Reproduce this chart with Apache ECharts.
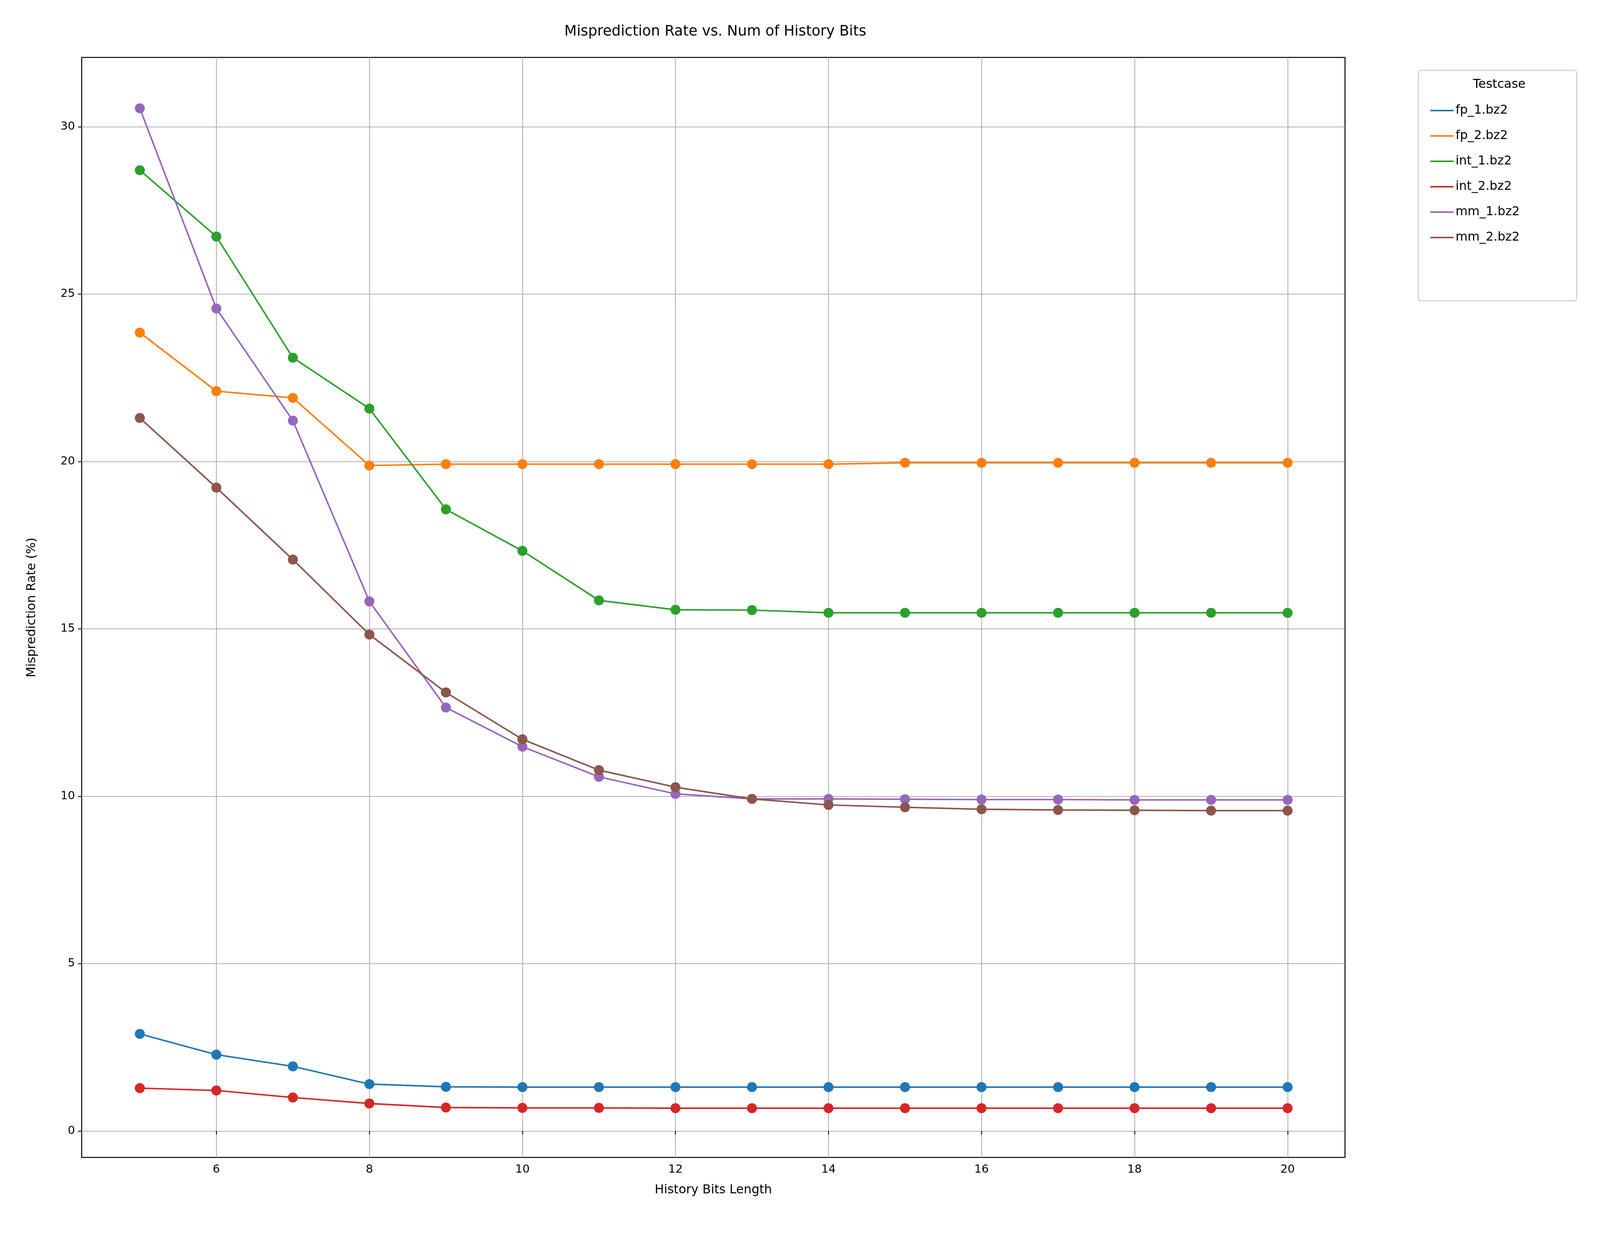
<!DOCTYPE html>
<html><head><meta charset="utf-8">
<script src="https://cdn.jsdelivr.net/npm/echarts@6/dist/echarts.min.js"></script>
<style>html,body{margin:0;background:#fff;overflow:hidden}#c{width:100vw;height:100vh}</style>
</head><body><div id="c"></div>
<script>
var bits = [5,6,7,8,9,10,11,12,13,14,15,16,17,18,19,20];
var names = ['fp_1.bz2','fp_2.bz2','int_1.bz2','int_2.bz2','mm_1.bz2','mm_2.bz2'];
var colors = ['#1f77b4','#ff7f0e','#2ca02c','#d62728','#9467bd','#8c564b'];
var fp1 = [2.9,2.28,1.93,1.4,1.32,1.31,1.31,1.31,1.31,1.31,1.31,1.31,1.31,1.31,1.31,1.31];
var fp2 = [23.85,22.1,21.9,19.88,19.92,19.92,19.92,19.92,19.92,19.92,19.96,19.96,19.96,19.96,19.96,19.96];
var int1 = [28.7,26.72,23.1,21.58,18.57,17.33,15.85,15.57,15.56,15.48,15.48,15.48,15.48,15.48,15.48,15.48];
var int2 = [1.28,1.21,1.0,0.82,0.7,0.69,0.69,0.68,0.68,0.68,0.68,0.68,0.68,0.68,0.68,0.68];
var mm1 = [30.55,24.57,21.22,15.82,12.65,11.48,10.58,10.07,9.92,9.92,9.91,9.9,9.9,9.89,9.89,9.89];
var mm2 = [21.3,19.22,17.07,14.83,13.1,11.7,10.78,10.27,9.92,9.74,9.67,9.61,9.59,9.58,9.57,9.57];
var xTicks = [6,8,10,12,14,16,18,20];
var yTicks = [0,5,10,15,20,25,30];
var all = [fp1,fp2,int1,int2,mm1,mm2];

var el = document.getElementById('c');
var W = el.clientWidth, H = el.clientHeight;
var kx = W/4800, ky = H/3200, k = Math.min(kx, ky);
var chart = echarts.init(el);
var font = 'DejaVu Sans';
chart.setOption({
  animation:false,
  textStyle:{fontFamily:font},
  title:[
    {text:'Misprediction Rate vs. Num of History Bits',left:2140*kx,top:58*ky,textAlign:'center',
     textStyle:{fontSize:43*k,fontWeight:'normal',color:'#000',fontFamily:font}},
    {text:'Testcase',left:4492*kx,top:196*ky,textAlign:'center',
     textStyle:{fontSize:37*k,fontWeight:'normal',color:'#000',fontFamily:font}}
  ],
  graphic:[{type:'rect',shape:{x:4255*kx,y:180*ky,width:475*kx,height:590*ky,r:8*k},
    style:{fill:'#fff',stroke:'#ccc',lineWidth:3*k},z:-1}],
  legend:{orient:'vertical',left:4285*kx,top:262*ky,itemGap:33*ky,itemWidth:70*k,itemHeight:30*k,
    textStyle:{fontSize:37*k,color:'#000',fontFamily:font},
    data:names.map(function(n){return {name:n,icon:'path://M0,14L30,14L30,16L0,16Z'};})},
  grid:{left:245*kx,right:765*kx,top:147*ky,bottom:237*ky,show:true,borderColor:'#000',borderWidth:3*k,
    outerBoundsMode:'none',containLabel:false},
  xAxis:{type:'value',min:4.24,max:20.75,name:'History Bits Length',nameLocation:'middle',nameGap:80*k,
    nameTextStyle:{fontSize:37*k,color:'#000'},
    axisLine:{show:false},
    axisTick:{customValues:xTicks,length:11*k,lineStyle:{color:'#000',width:2.5*k}},
    axisLabel:{customValues:xTicks,fontSize:34*k,color:'#000',margin:20*k},
    splitLine:{show:true,lineStyle:{color:'#b0b0b0',width:2.5*k}}},
  yAxis:{type:'value',min:-0.79,max:32.07,name:'Misprediction Rate (%)',nameLocation:'middle',nameGap:130*k,
    nameTextStyle:{fontSize:37*k,color:'#000'},
    axisLine:{show:false},
    axisTick:{show:true,customValues:yTicks,length:11*k,lineStyle:{color:'#000',width:2.5*k}},
    axisLabel:{customValues:yTicks,fontSize:34*k,color:'#000',margin:20*k},
    splitLine:{show:true,lineStyle:{color:'#b0b0b0',width:2.5*k}}},
  series:names.map(function(n,i){
    return {name:n,type:'line',color:colors[i],symbol:'circle',symbolSize:30*k,
      lineStyle:{width:4.6*k},itemStyle:{color:colors[i]},
      data:bits.map(function(b,j){return [b,all[i][j]];})};
  })
});
</script></body></html>
